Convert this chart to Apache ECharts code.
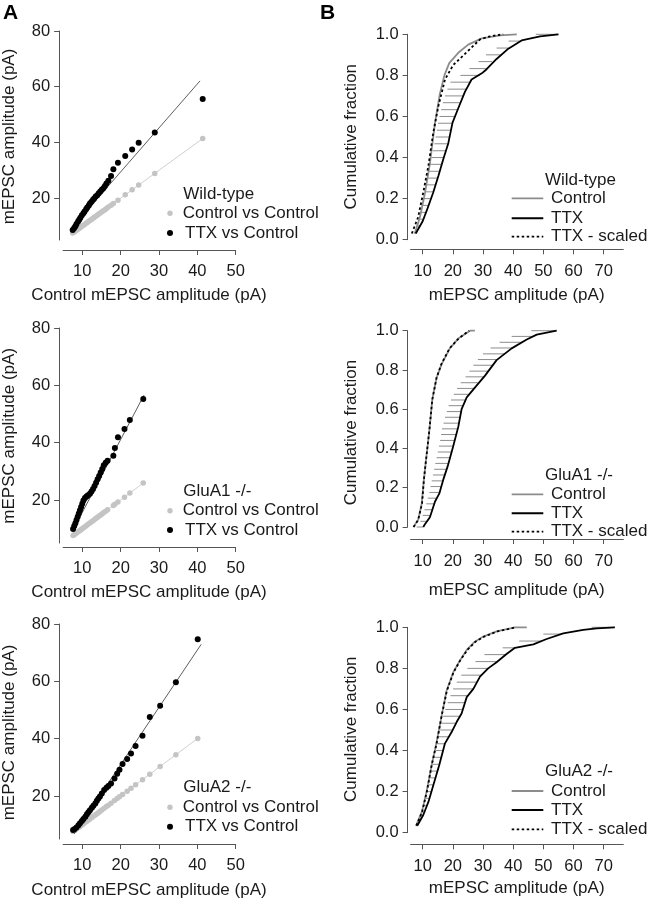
<!DOCTYPE html>
<html><head><meta charset="utf-8">
<script src="https://cdn.jsdelivr.net/npm/echarts@6/dist/echarts.min.js"></script>
<style>html,body{margin:0;padding:0;background:#fff}#c{width:647px;height:899px}</style>
</head><body><div id="c"></div>
<script>
// ---------- Panel A : quantile-quantile data (Control quantiles vs TTX quantiles) ----------
const ctrlQ_WT = [7.5, 7.9, 8.2, 8.5, 8.9, 9.2, 9.5, 9.9, 10.3, 10.6, 11.0, 11.3, 11.7, 12.0, 12.4, 12.8, 13.1, 13.5, 13.9, 14.3, 14.7, 15.1, 15.5, 15.9, 16.3, 16.8, 17.5, 18.1, 19.3, 21.2, 23.0, 24.7, 28.9, 41.4];
const ttxQ_WT  = [8.6, 9.3, 9.9, 10.7, 11.6, 12.3, 13.0, 13.9, 14.6, 15.2, 16.0, 16.7, 17.4, 18.1, 18.7, 19.4, 19.9, 20.6, 21.1, 21.8, 22.4, 23.0, 23.6, 24.4, 25.3, 26.3, 28.0, 30.4, 32.7, 35.1, 37.5, 39.9, 43.6, 55.6];
const fitWT = [[6.8, 8.6], [40.7, 62.1]];

const ctrlQ_A1 = [7.6, 7.9, 8.2, 8.5, 8.8, 9.1, 9.4, 9.7, 10.0, 10.3, 10.7, 11.1, 11.5, 12.0, 12.4, 12.8, 13.2, 13.6, 14.0, 14.4, 14.8, 15.2, 15.6, 16.1, 16.6, 18.1, 18.5, 19.3, 21.0, 22.4, 25.9];
const ttxQ_A1  = [9.9, 10.9, 11.9, 13.0, 14.2, 15.3, 16.4, 17.6, 18.7, 19.8, 20.7, 21.2, 21.7, 22.2, 23.0, 23.8, 24.9, 26.0, 27.2, 28.4, 29.6, 30.8, 32.1, 33.0, 33.7, 35.4, 38.1, 41.9, 44.8, 47.9, 55.2];
const fitA1 = [[7.5, 9.3], [26.1, 56.6]];

const ctrlQ_A2 = [7.6, 8.0, 8.5, 9.0, 9.4, 9.9, 10.3, 10.8, 11.2, 11.6, 12.0, 12.5, 12.9, 13.4, 13.8, 14.2, 14.6, 15.1, 15.7, 16.3, 16.8, 17.5, 18.4, 19.1, 19.7, 20.5, 21.7, 22.7, 23.9, 25.7, 27.6, 30.3, 34.4, 40.1];
const ttxQ_A2  = [8.1, 8.5, 9.0, 9.8, 10.5, 11.3, 12.0, 12.8, 13.6, 14.3, 15.0, 15.9, 16.6, 17.4, 18.3, 19.1, 19.8, 20.9, 22.1, 22.9, 23.5, 24.4, 26.1, 27.8, 29.2, 31.2, 32.9, 34.8, 37.4, 41.0, 47.6, 51.5, 59.7, 74.7];
const fitA2 = [[7.9, 6.8], [41.0, 72.9]];

const xTicksA = [10, 20, 30, 40, 50];
const yTicksA = [20, 40, 60, 80];

// ---------- Panel B : cumulative distributions [amplitude, fraction] ----------
const ctrlCdfWT = [[7.4,0.03],[9.1,0.11],[10.8,0.23],[12.4,0.37],[14.1,0.57],[15.7,0.71],[17.2,0.80],[18.8,0.86],[21.8,0.91],[25.1,0.95],[29.6,0.98],[35.6,0.995],[41.2,1.0]];
const ttxCdfWT = [[7.7,0.03],[10.0,0.09],[11.3,0.14],[13.5,0.23],[15.2,0.31],[16.8,0.39],[18.5,0.47],[19.9,0.57],[21.8,0.64],[24.0,0.72],[26.2,0.78],[29.6,0.81],[31.2,0.83],[34.5,0.88],[38.4,0.93],[42.8,0.97],[48.9,0.99],[55.0,1.0]];
const scaledCdfWT = [[6.4,0.03],[8.5,0.11],[10.2,0.23],[11.9,0.36],[13.5,0.52],[15.2,0.65],[17.4,0.78],[20.1,0.85],[25.1,0.92],[29.0,0.975],[32.3,0.99],[36.7,1.0]];
// error bars: [fraction, left amplitude, right amplitude]
const barsWT = [[0.033,7.0,7.9],[0.067,8.0,9.2],[0.1,8.8,10.2],[0.133,9.4,11.0],[0.167,9.9,11.9],[0.2,10.4,12.6],[0.233,10.9,13.5],[0.267,11.3,14.2],[0.3,11.8,15.0],[0.333,12.2,15.6],[0.367,12.6,16.2],[0.4,13.0,16.9],[0.433,13.4,17.6],[0.467,13.9,18.4],[0.5,14.3,18.9],[0.533,14.7,19.4],[0.567,15.1,19.9],[0.6,15.6,20.8],[0.633,16.1,21.6],[0.667,16.7,22.6],[0.7,17.4,23.4],[0.733,18.2,24.7],[0.767,19.2,25.7],[0.8,22.5,28.9],[0.833,25.5,31.2],[0.867,28.5,33.0],[0.9,31.0,35.8],[0.933,34.5,38.6],[0.967,38.5,42.4],[1.0,47.5,55.0]];

const ctrlCdfA1 = [[6.9,0.0],[8.5,0.036],[9.7,0.12],[10.4,0.24],[11.1,0.34],[12.2,0.49],[13.2,0.65],[14.6,0.76],[16.3,0.83],[19.0,0.91],[21.8,0.96],[25.7,1.0],[27.3,1.0]];
const ttxCdfA1 = [[10.2,0.0],[10.8,0.015],[12.4,0.05],[14.1,0.13],[15.5,0.17],[16.8,0.24],[18.3,0.31],[20.1,0.41],[21.8,0.51],[22.9,0.60],[24.6,0.66],[27.3,0.71],[30.6,0.77],[34.5,0.85],[39.5,0.91],[44.5,0.955],[47.8,0.98],[54.4,1.0]];
const scaledCdfA1 = [[7.0,0.0],[8.5,0.036],[9.8,0.12],[10.4,0.24],[11.1,0.34],[12.2,0.49],[13.2,0.65],[14.6,0.76],[16.2,0.83],[18.9,0.91],[21.9,0.96],[25.4,1.0]];
const barsA1 = [[0,8.0,10.2],[0.029,9.2,11.4],[0.059,10.0,12.6],[0.088,10.6,13.2],[0.118,11.2,13.9],[0.147,11.7,14.7],[0.176,12.2,15.6],[0.206,12.6,16.2],[0.235,13.0,16.7],[0.265,13.4,17.3],[0.294,13.8,17.9],[0.324,14.2,18.5],[0.353,14.6,19.1],[0.382,15.0,19.6],[0.412,15.4,20.1],[0.441,15.8,20.6],[0.471,16.1,21.1],[0.5,16.4,21.6],[0.529,16.9,22.0],[0.559,17.4,22.4],[0.588,18.0,22.8],[0.618,18.6,23.4],[0.647,19.4,24.2],[0.676,20.3,25.3],[0.706,21.4,27.1],[0.735,22.6,28.3],[0.765,24.2,30.5],[0.794,25.5,31.8],[0.824,26.8,33.1],[0.853,28.3,34.6],[0.882,30.0,37.0],[0.912,32.5,39.6],[0.941,35.5,43.0],[0.971,39.5,46.6],[1.0,46.0,54.4]];

const ctrlCdfA2 = [[7.8,0.034],[9.7,0.10],[11.3,0.20],[13.0,0.33],[14.6,0.44],[16.3,0.57],[17.9,0.69],[20.1,0.78],[22.4,0.84],[24.6,0.89],[27.3,0.93],[30.1,0.955],[34.5,0.98],[40.6,1.0],[44.5,1.0]];
const ttxCdfA2 = [[8.2,0.034],[10.2,0.086],[11.9,0.15],[13.5,0.23],[15.5,0.33],[17.4,0.435],[19.6,0.49],[21.3,0.54],[22.9,0.58],[24.6,0.66],[26.8,0.70],[29.0,0.76],[31.7,0.80],[34.5,0.83],[37.8,0.87],[40.6,0.90],[46.7,0.917],[51.1,0.943],[56.6,0.97],[63.2,0.987],[67.7,0.995],[73.7,1.0]];
const scaledCdfA2 = [[7.9,0.034],[9.8,0.10],[11.4,0.20],[13.0,0.33],[14.7,0.44],[16.3,0.57],[18.0,0.69],[20.2,0.78],[22.5,0.84],[24.8,0.89],[27.5,0.93],[30.4,0.955],[34.8,0.98],[40.9,1.0]];
const barsA2 = [[0.033,8.0,8.2],[0.067,9.0,9.5],[0.1,9.9,10.6],[0.133,10.5,11.5],[0.167,11.0,12.2],[0.2,11.5,12.9],[0.233,12.0,13.6],[0.267,12.5,14.3],[0.3,13.0,14.9],[0.333,13.3,15.6],[0.367,13.8,16.2],[0.4,14.3,16.8],[0.433,14.8,17.4],[0.467,15.3,18.7],[0.5,15.8,20.0],[0.533,16.3,21.1],[0.567,16.8,22.2],[0.6,17.5,23.3],[0.633,18.3,24.0],[0.667,19.2,25.0],[0.7,20.1,26.8],[0.733,21.3,28.0],[0.767,22.8,29.4],[0.8,24.8,31.7],[0.833,27.5,34.8],[0.867,30.5,37.6],[0.9,36.5,40.6],[0.933,42.0,49.5],[0.967,50.0,56.0],[1.0,66.0,73.7]];

const xTicksB = [10, 20, 30, 40, 50, 60, 70];

const genotypes = ['Wild-type', 'GluA1 -/-', 'GluA2 -/-'];

// ---------- layout ----------
const FONT = "'Liberation Sans', Arial, sans-serif";
const TXT = '#1a1a1a';
const AXC = '#555';
const leftG = [{top:31,h:209,xoff:10},{top:328,h:215,xoff:4},{top:624,h:215,xoff:5}];
const rightG = [{top:34.3,h:205.4,xoff:9.6},{top:330.7,h:196.3,xoff:12},{top:627.3,h:205.4,xoff:11.6}];

const qq = [[ctrlQ_WT, ttxQ_WT, fitWT],[ctrlQ_A1, ttxQ_A1, fitA1],[ctrlQ_A2, ttxQ_A2, fitA2]];
const cdf = [[ctrlCdfWT, ttxCdfWT, scaledCdfWT, barsWT],[ctrlCdfA1, ttxCdfA1, scaledCdfA1, barsA1],[ctrlCdfA2, ttxCdfA2, scaledCdfA2, barsA2]];

const grid = [], xAxis = [], yAxis = [], series = [], graphic = [];
const axisCommon = {
  axisLine:{show:true, onZero:false, lineStyle:{color:AXC, width:1}},
  splitLine:{show:false},
  axisLabel:{color:TXT, fontFamily:FONT, fontSize:16.5},
};

for (let p = 0; p < 3; p++) {
  // left QQ grid
  const gi = grid.length;
  grid.push({left:63.1, width:172.6, top:leftG[p].top, height:leftG[p].h, outerBoundsMode:'none', containLabel:false});
  xAxis.push(Object.assign({}, axisCommon, {type:'value', gridIndex:gi, min:5, max:50, offset:leftG[p].xoff,
    axisTick:{show:true, length:5, lineStyle:{color:AXC}, customValues:xTicksA},
    axisLabel:Object.assign({}, axisCommon.axisLabel, {margin:13, customValues:xTicksA})}));
  yAxis.push(Object.assign({}, axisCommon, {type:'value', gridIndex:gi, min:5, max:80, offset:4,
    axisTick:{show:true, length:5, lineStyle:{color:AXC}, customValues:yTicksA},
    axisLabel:Object.assign({}, axisCommon.axisLabel, {margin:9, customValues:yTicksA})}));
  const [cq, tq, fit] = qq[p];
  series.push({type:'line', xAxisIndex:gi, yAxisIndex:gi, data:cq.map(v => [v, v]), symbol:'circle', symbolSize:5.5,
    showAllSymbol:true, itemStyle:{color:'#c4c4c4', opacity:1}, lineStyle:{color:'#d0d0d0', width:1}, silent:true, animation:false, z:2});
  series.push({type:'line', xAxisIndex:gi, yAxisIndex:gi, data:fit, showSymbol:false, symbol:'none',
    lineStyle:{color:'#333', width:0.8}, silent:true, animation:false, z:3});
  series.push({type:'scatter', xAxisIndex:gi, yAxisIndex:gi, data:cq.map((v, i) => [v, tq[i]]), symbol:'circle', symbolSize:6,
    itemStyle:{color:'#000', opacity:1}, silent:true, animation:false, z:4});

  // right CDF grid
  const gj = grid.length;
  grid.push({left:410.6, width:212.7, top:rightG[p].top, height:rightG[p].h, outerBoundsMode:'none', containLabel:false});
  xAxis.push(Object.assign({}, axisCommon, {type:'value', gridIndex:gj, min:6, max:76.5, offset:rightG[p].xoff,
    axisTick:{show:true, length:5, lineStyle:{color:AXC}, customValues:xTicksB},
    axisLabel:Object.assign({}, axisCommon.axisLabel, {margin:14, customValues:xTicksB})}));
  yAxis.push(Object.assign({}, axisCommon, {type:'value', gridIndex:gj, min:0, max:1, interval:0.2, offset:3,
    axisTick:{show:true, length:5, lineStyle:{color:AXC}},
    axisLabel:Object.assign({}, axisCommon.axisLabel, {margin:9, formatter:v => v.toFixed(1)})}));
  const [c, t, s, b] = cdf[p];
  series.push({type:'custom', xAxisIndex:gj, yAxisIndex:gj, data:b, encode:{x:[1,2], y:0}, silent:true, animation:false, z:1, clip:false,
    renderItem:(params, api) => {
      const a = api.coord([api.value(1), api.value(0)]);
      const e = api.coord([api.value(2), api.value(0)]);
      return {type:'line', shape:{x1:a[0], y1:a[1], x2:e[0], y2:e[1]}, style:{stroke:'#8c8c8c', lineWidth:1}};
    }});
  series.push({type:'line', xAxisIndex:gj, yAxisIndex:gj, data:c, symbol:'none', lineStyle:{color:'#8c8c8c', width:1.8}, silent:true, animation:false, z:2, clip:false});
  series.push({type:'line', xAxisIndex:gj, yAxisIndex:gj, data:t, symbol:'none', lineStyle:{color:'#000', width:1.8}, silent:true, animation:false, z:3, clip:false});
  series.push({type:'line', xAxisIndex:gj, yAxisIndex:gj, data:s, symbol:'none', lineStyle:{color:'#000', width:1.8, type:[2.5,2.5]}, silent:true, animation:false, z:4, clip:false});
}

// ---------- text & legends (graphic) ----------
function txt(x, y, text, opt) {
  graphic.push(Object.assign({type:'text', x:x, y:y, silent:true,
    style:Object.assign({text:text, fill:TXT, font:'17px ' + FONT, textAlign:'left', textVerticalAlign:'middle'}, opt || {})}));
}
graphic.push({type:'text', x:3, y:13, silent:true, style:{text:'A', fill:'#000', font:'bold 21px ' + FONT, textAlign:'left', textVerticalAlign:'middle'}});
graphic.push({type:'text', x:320, y:13, silent:true, style:{text:'B', fill:'#000', font:'bold 21px ' + FONT, textAlign:'left', textVerticalAlign:'middle'}});

const leftTitleY = [136.5, 435.8, 732.5];
const leftXTitleY = [295.5, 592.7, 890];
const rightTitleY = [136.7, 432.5, 729.2];
const rightXTitleY = [295, 590, 888.3];
const legL = [[194, 213.3, 233], [491.7, 510.7, 530], [787.7, 807.3, 826.7]];
const legR = [[180, 198.3, 218.3, 236.7], [475.7, 494.3, 513.3, 531.7], [771.7, 791, 810, 829.3]];

for (let p = 0; p < 3; p++) {
  graphic.push({type:'text', x:9.5, y:leftTitleY[p], rotation:Math.PI/2, silent:true,
    style:{text:'mEPSC amplitude (pA)', fill:TXT, font:'17px ' + FONT, textAlign:'center', textVerticalAlign:'middle'}});
  txt(149, leftXTitleY[p], 'Control mEPSC amplitude (pA)', {textAlign:'center'});
  graphic.push({type:'text', x:351.7, y:rightTitleY[p], rotation:Math.PI/2, silent:true,
    style:{text:'Cumulative fraction', fill:TXT, font:'17px ' + FONT, textAlign:'center', textVerticalAlign:'middle'}});
  txt(516.7, rightXTitleY[p], 'mEPSC amplitude (pA)', {textAlign:'center'});

  // left legend
  const L = legL[p];
  txt(183.3, L[0], genotypes[p]);
  graphic.push({type:'circle', shape:{cx:170, cy:L[1], r:2.7}, style:{fill:'#c4c4c4'}, silent:true});
  txt(182.7, L[1], 'Control vs Control');
  graphic.push({type:'circle', shape:{cx:170, cy:L[2], r:3}, style:{fill:'#000'}, silent:true});
  txt(185, L[2], 'TTX vs Control');

  // right legend
  const R = legR[p];
  txt(545, R[0], genotypes[p]);
  graphic.push({type:'line', shape:{x1:511.7, y1:R[1], x2:543.3, y2:R[1]}, style:{stroke:'#8c8c8c', lineWidth:1.8}, silent:true});
  txt(551, R[1], 'Control');
  graphic.push({type:'line', shape:{x1:511.7, y1:R[2], x2:543.3, y2:R[2]}, style:{stroke:'#000', lineWidth:2}, silent:true});
  txt(551, R[2], 'TTX');
  graphic.push({type:'line', shape:{x1:511.7, y1:R[3], x2:543.3, y2:R[3]}, style:{stroke:'#000', lineWidth:1.8, lineDash:[2.5,2.5]}, silent:true});
  txt(551, R[3], 'TTX - scaled');
}

const chart = echarts.init(document.getElementById('c'), null, {renderer:'canvas'});
chart.setOption({animation:false, backgroundColor:'#fff', grid, xAxis, yAxis, series, graphic});
</script></body></html>
